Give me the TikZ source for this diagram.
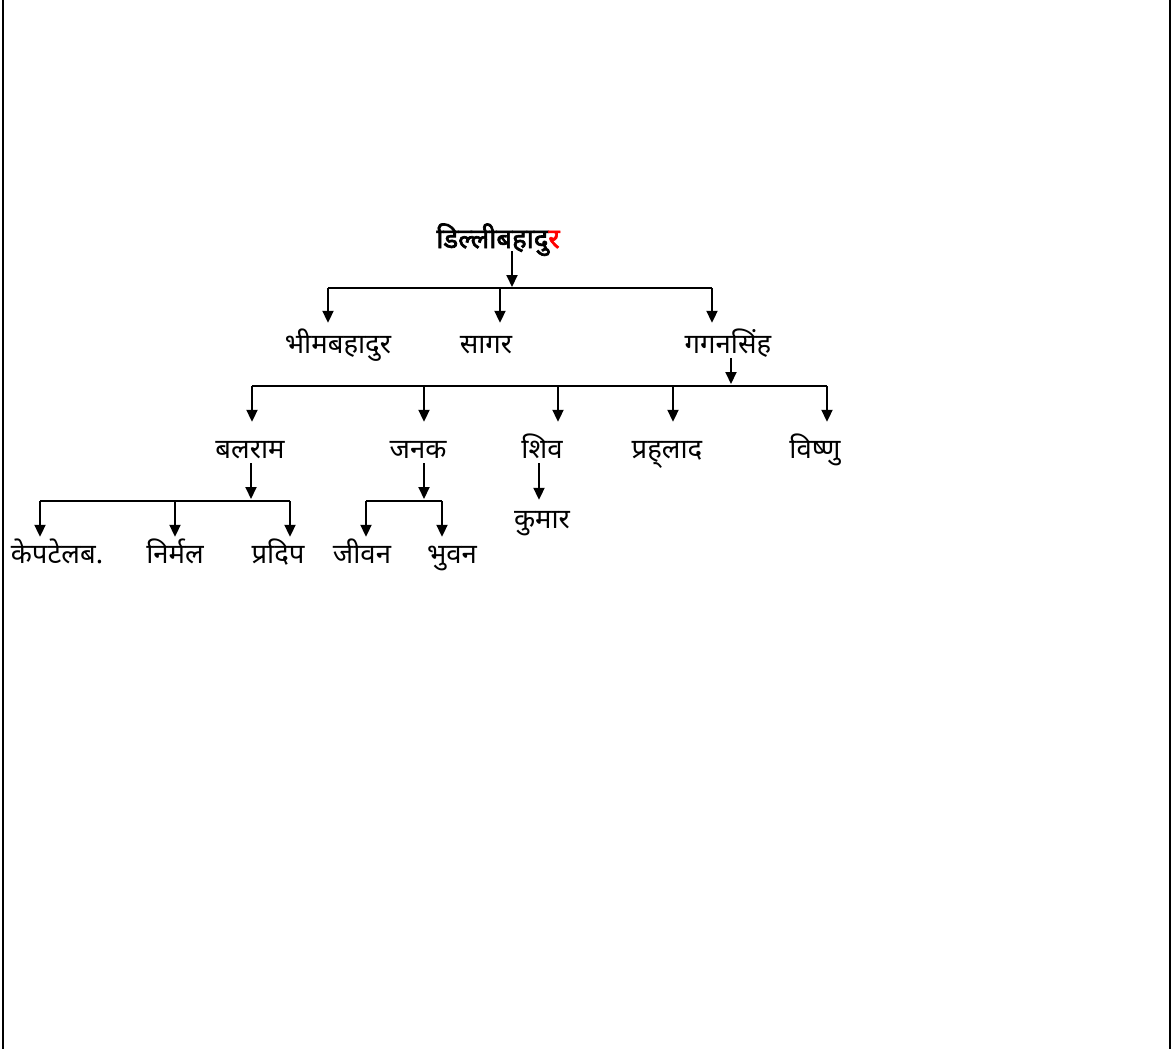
\documentclass[tikz,border=0pt]{standalone}
\usepackage{fontspec}
\newfontfamily\deva[Script=Devanagari]{Noto Sans}
\newfontfamily\devab[Script=Devanagari,FakeBold=2.5]{Noto Sans}
\usetikzlibrary{arrows.meta}
\begin{document}
\begin{tikzpicture}[x=1pt,y=-1pt,
  arr/.style={-{Triangle[width=11pt,length=12pt]}, line width=2pt},
  bar/.style={line width=2pt},
  lbl/.style={font=\deva\fontsize{27.5}{32}\selectfont, inner sep=0pt, anchor=base, text height=16pt, text depth=5pt}]
\useasboundingbox (0,0) rectangle (1173,1049);
\draw[line width=2pt] (3,0) -- (3,1049) (1170,0) -- (1170,1049);
% nodes
\node[lbl, font=\devab\fontsize{27.5}{32}\selectfont, text depth=3pt] (root) at (498,248) {डिल्लीबहादु\textcolor{red}{र}};
\node[lbl] (bhim) at (338,353) {भीमबहादुर};
\node[lbl] (sagar) at (486,353) {सागर};
\node[lbl] (gagan) at (728,353) {गगनसिंह};
\node[lbl] (balram) at (250,458) {बलराम};
\node[lbl] (janak) at (418,458) {जनक};
\node[lbl] (shiv) at (542,458) {शिव};
\node[lbl] (prah) at (667,458) {प्रह्‌लाद};
\node[lbl] (vishnu) at (815,458) {विष्णु};
\node[lbl] (kumar) at (542,528) {कुमार};
\node[lbl] (kep) at (57,563) {केपटेलब.};
\node[lbl] (nirmal) at (175,563) {निर्मल};
\node[lbl] (pradip) at (278,563) {प्रदिप};
\node[lbl] (jivan) at (362,563) {जीवन};
\node[lbl] (bhuvan) at (452,563) {भुवन};
% junction coordinates
\coordinate (r0) at (512,287);
\coordinate (a1) at (328,288);
\coordinate (a2) at (500,288);
\coordinate (a3) at (712,288);
\coordinate (g0) at (731,384);
\coordinate (c1) at (252,386);
\coordinate (c2) at (424,386);
\coordinate (c3) at (558,386);
\coordinate (c4) at (673,386);
\coordinate (c5) at (827,386);
\coordinate (l0) at (251,499);
\coordinate (l1) at (40,501);
\coordinate (l2) at (175,501);
\coordinate (l3) at (290,501);
\coordinate (j0) at (424,499);
\coordinate (j1) at (366,501);
\coordinate (j2) at (442,501);
\coordinate (s0) at (539,462);
% bars
\draw[bar] (a1) -- (a3);
\draw[bar] (c1) -- (c5);
\draw[bar] (l1) -- (l3);
\draw[bar] (j1) -- (j2);
% arrows
\draw[arr] (r0 |- root.south) -- (r0);
\draw[arr] (a1) -- ([yshift=14pt]a1 |- bhim.north);
\draw[arr] (a2) -- ([yshift=14pt]a2 |- sagar.north);
\draw[arr] (a3) -- ([yshift=14pt]a3 |- gagan.north);
\draw[arr] (g0 |- gagan.south) -- (g0);
\draw[arr] (c1) -- ([yshift=20pt]c1 |- balram.north);
\draw[arr] (c2) -- ([yshift=20pt]c2 |- janak.north);
\draw[arr] (c3) -- ([yshift=20pt]c3 |- shiv.north);
\draw[arr] (c4) -- ([yshift=20pt]c4 |- prah.north);
\draw[arr] (c5) -- ([yshift=20pt]c5 |- vishnu.north);
\draw[arr] (l0 |- balram.south) -- (l0);
\draw[arr] (l1) -- ([yshift=10pt]l1 |- kep.north);
\draw[arr] (l2) -- ([yshift=10pt]l2 |- nirmal.north);
\draw[arr] (l3) -- ([yshift=10pt]l3 |- pradip.north);
\draw[arr] (j0 |- janak.south) -- (j0);
\draw[arr] (j1) -- ([yshift=10pt]j1 |- jivan.north);
\draw[arr] (j2) -- ([yshift=10pt]j2 |- bhuvan.north);
\draw[arr] (s0 |- shiv.south) -- ([yshift=12pt]s0 |- kumar.north);
\end{tikzpicture}
\end{document}
